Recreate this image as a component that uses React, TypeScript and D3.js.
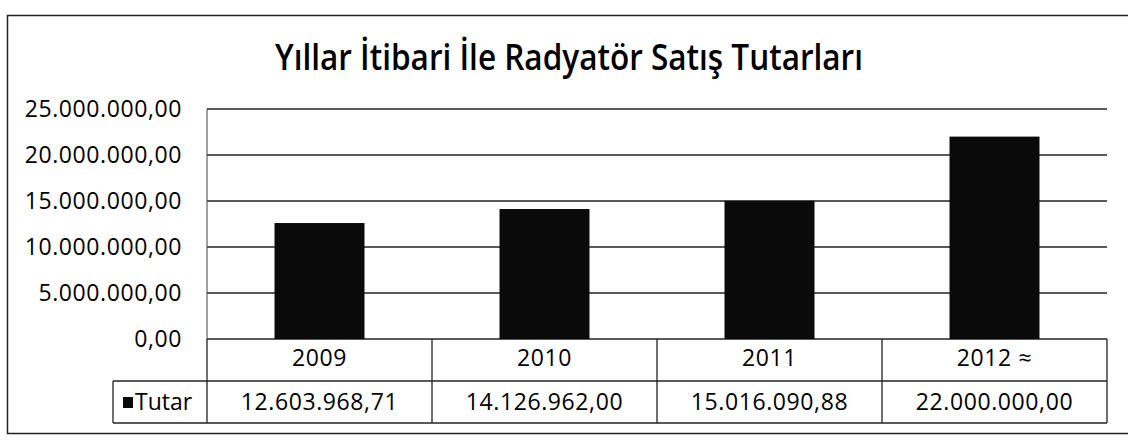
import * as d3 from 'd3';

const years = ['2009', '2010', '2011', '2012 ≈'];
const tutar = [12603968.71, 14126962.0, 15016090.88, 22000000.0];
const tutarLabels = ['12.603.968,71', '14.126.962,00', '15.016.090,88', '22.000.000,00'];
const yTicks = [0, 5000000, 10000000, 15000000, 20000000, 25000000];
const seriesName = 'Tutar';
const title = 'Yıllar İtibari İle Radyatör Satış Tutarları';

const W = 1128;
const H = 442;
const font = '"Open Sans", "DejaVu Sans", sans-serif';

// turkish style number: 25.000.000,00
const fmtTR = (v: number) =>
  d3.format(',.2f')(v).replace(/,/g, '#').replace('.', ',').replace(/#/g, '.');

export default function App() {
  const left = 207;
  const right = 1107;
  const top = 109;
  const bottom = 339;
  const rowH = 42;
  const legendX = 113;

  const x = d3.scaleBand<string>().domain(years).range([left, right]).paddingInner(0).paddingOuter(0);
  const y = d3.scaleLinear().domain([0, 25000000]).range([bottom, top]);
  const barW = x.bandwidth() * 0.4;
  const cx = (yr: string) => (x(yr) ?? 0) + x.bandwidth() / 2;

  return (
    <svg width={W} height={H} style={{ position: 'absolute', left: 0, top: 0, background: '#fff' }}>
      <rect x={0} y={0} width={W} height={H} fill="#fff" />
      {/* outer frame, right edge runs off the page */}
      <rect x={7.5} y={15.5} width={1130} height={418} fill="none" stroke="#222" strokeWidth={1.5} />

      <text
        x={569}
        y={70}
        textAnchor="middle"
        fontFamily={font}
        fontSize={36}
        fontWeight={600}
        fill="#000"
        textLength={588}
        lengthAdjust="spacingAndGlyphs"
      >
        {title}
      </text>

      {/* gridlines */}
      {yTicks.map((t) => (
        <line key={t} x1={left} x2={right} y1={y(t)} y2={y(t)} stroke="#222" strokeWidth={1.3} />
      ))}
      <line x1={left} x2={left} y1={top} y2={bottom} stroke="#444" strokeWidth={1} />

      {/* y tick labels */}
      {yTicks.map((t) => (
        <text
          key={'l' + t}
          x={182}
          y={y(t)}
          dy="0.36em"
          textAnchor="end"
          fontFamily={font}
          fontSize={23}
          letterSpacing={0.6}
          fill="#000"
        >
          {fmtTR(t)}
        </text>
      ))}

      {/* bars */}
      {years.map((yr, i) => (
        <rect
          key={yr}
          x={cx(yr) - barW / 2}
          y={y(tutar[i])}
          width={barW}
          height={y(0) - y(tutar[i])}
          fill="#0a0a0a"
        />
      ))}

      {/* data table */}
      <g stroke="#222" strokeWidth={1.3} fill="none">
        <line x1={legendX} x2={right} y1={bottom + rowH} y2={bottom + rowH} />
        <line x1={legendX} x2={right} y1={bottom + rowH * 2} y2={bottom + rowH * 2} />
        <line x1={legendX} x2={legendX} y1={bottom + rowH} y2={bottom + rowH * 2} />
        <line x1={left} x2={left} y1={bottom} y2={bottom + rowH * 2} />
        {years.map((yr) => (
          <line
            key={'c' + yr}
            x1={(x(yr) ?? 0) + x.bandwidth()}
            x2={(x(yr) ?? 0) + x.bandwidth()}
            y1={bottom}
            y2={bottom + rowH * 2}
          />
        ))}
      </g>
      {years.map((yr, i) => (
        <g key={'t' + yr} fontFamily={font} fontSize={23} letterSpacing={0.6} fill="#000" textAnchor="middle">
          <text x={cx(yr)} y={bottom + rowH / 2 - 2} dy="0.36em">
            {yr}
          </text>
          <text x={cx(yr)} y={bottom + rowH * 1.5} dy="0.36em">
            {tutarLabels[i]}
          </text>
        </g>
      ))}
      <rect x={123} y={bottom + rowH * 1.5 - 5} width={10} height={11} fill="#0a0a0a" />
      <text x={135} y={bottom + rowH * 1.5} dy="0.36em" fontFamily={font} fontSize={23} fill="#000">
        {seriesName}
      </text>
    </svg>
  );
}
